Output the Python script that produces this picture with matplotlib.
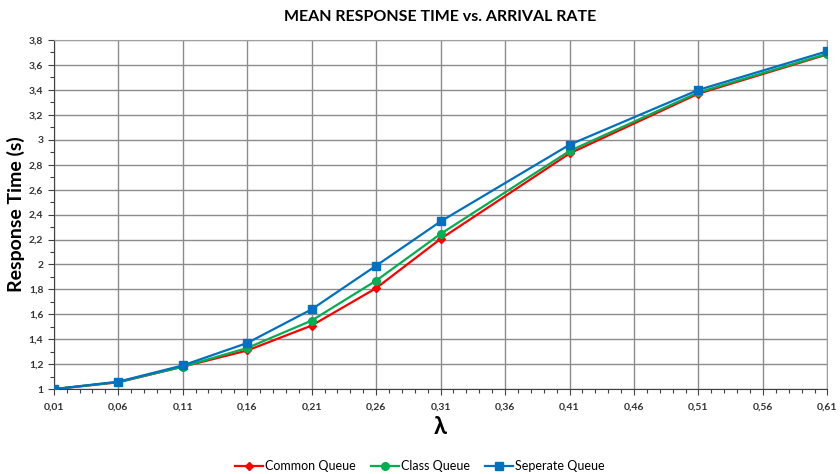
import numpy as np
import matplotlib
matplotlib.use("Agg")
import matplotlib.pyplot as plt
from matplotlib.ticker import MultipleLocator, FuncFormatter

plt.rcParams['font.family'] = ['Lato', 'DejaVu Sans']

# arrival rates and mean response times
arrival_rate = [0.01, 0.06, 0.11, 0.16, 0.21, 0.26, 0.31, 0.41, 0.51, 0.61]
common_queue = [1.00, 1.055, 1.18, 1.31, 1.51, 1.81, 2.205, 2.89, 3.37, 3.685]
class_queue = [1.00, 1.057, 1.18, 1.33, 1.55, 1.87, 2.245, 2.91, 3.38, 3.69]
seperate_queue = [1.00, 1.06, 1.19, 1.37, 1.64, 1.99, 2.345, 2.96, 3.40, 3.71]

fig = plt.figure(figsize=(8.4, 4.74), dpi=100)
ax = fig.add_axes([0.064, 0.179, 0.921, 0.7366])

ax.plot(arrival_rate, common_queue, color="#FF0000", marker="D", markersize=4.5,
        linewidth=1.6, label="Common Queue", zorder=3)
ax.plot(arrival_rate, class_queue, color="#00B050", marker="o", markersize=5.5,
        linewidth=1.6, label="Class Queue", zorder=4)
ax.plot(arrival_rate, seperate_queue, color="#0070C0", marker="s", markersize=6,
        linewidth=1.6, label="Seperate Queue", zorder=5)

ax.set_xlim(0.01, 0.61)
ax.set_ylim(1, 3.8)
ax.xaxis.set_major_locator(MultipleLocator(0.05, offset=0.01))
ax.xaxis.set_minor_locator(MultipleLocator(0.01))
ax.yaxis.set_major_locator(MultipleLocator(0.2))
ax.yaxis.set_minor_locator(MultipleLocator(0.1))

def comma_fmt(v, pos):
    return ("%g" % round(v, 2)).replace(".", ",")

ax.xaxis.set_major_formatter(FuncFormatter(comma_fmt))
ax.yaxis.set_major_formatter(FuncFormatter(comma_fmt))

ax.grid(True, which="major", color="#8c8c8c", linewidth=1.0)
ax.set_axisbelow(True)
for side in ["top", "right"]:
    ax.spines[side].set_color("#a0a0a0")
for side in ["left", "bottom"]:
    ax.spines[side].set_color("#404040")

ax.tick_params(axis="both", which="major", direction="out", length=4, width=0.8,
               labelsize=7.5, color="#404040", labelcolor="#333333")
ax.tick_params(axis="both", which="minor", direction="out", length=3, width=0.8,
               color="#404040")
for lbl in ax.get_xticklabels() + ax.get_yticklabels():
    lbl.set_fontweight("bold")
ax.tick_params(axis="x", pad=6)

ax.set_title("MEAN RESPONSE TIME vs. ARRIVAL RATE", fontsize=11.5, fontweight="bold",
             pad=14)
ax.set_xlabel("λ", fontsize=17, fontweight="bold", labelpad=2)
ax.set_ylabel("Response Time (s)", fontsize=14, fontweight="bold", labelpad=3)

fig.legend(loc="center", bbox_to_anchor=(0.5, 0.016), ncol=3, frameon=False,
           fontsize=9, handlelength=2.2, handletextpad=0.2, columnspacing=1.2)

fig.savefig("out.png", dpi=100)
